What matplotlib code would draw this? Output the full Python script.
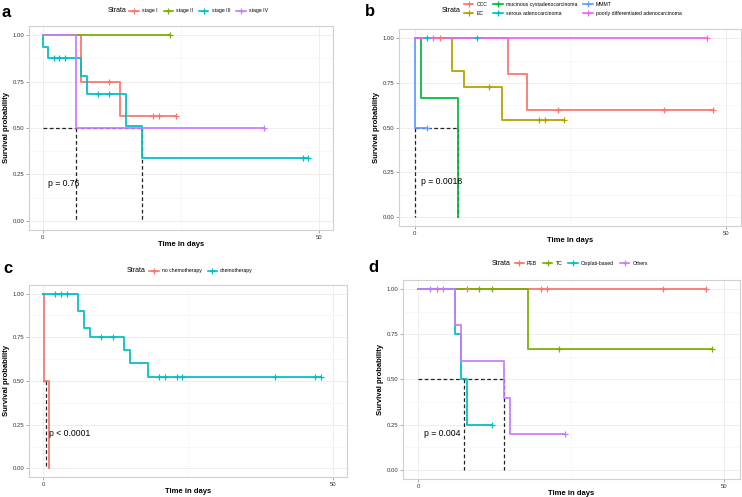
import matplotlib.pyplot as plt
import numpy as np
from matplotlib.lines import Line2D

plt.rcParams['font.family'] = ['Liberation Sans', 'DejaVu Sans']

# ---- panel a : stage
A_LABELS = ['stage I', 'stage II', 'stage III', 'stage IV']
A_COLORS = ['#F8766D', '#7CAE00', '#00BFC4', '#C77CFF']
A_TIMES = [[0, 7, 14, 24], [0, 23], [0, 0.1, 1, 7, 8, 15, 18, 48], [0, 6, 40]]
A_SURV = [[1.0, 0.75, 0.5625, 0.5625], [1.0, 1.0],
          [1.0, 0.9375, 0.875, 0.778, 0.681, 0.51, 0.34, 0.34], [1.0, 0.5, 0.5]]
A_CENS = [[12, 20, 21, 24], [23], [2, 3, 4, 10, 12, 47, 48], [40]]
A_MEDIANS = [6, 18]
A_P = 'p = 0.76'

# ---- panel b : histology
B_LABELS = ['CCC', 'EC', 'mucinous cystadenocarcinoma', 'serous adenocarcinoma',
            'MMMT', 'poorly differentiated adenocarcinoma']
B_COLORS = ['#F8766D', '#B79F00', '#00BA38', '#00BFC4', '#619CFF', '#F564E3']
B_TIMES = [[0, 15, 18, 48], [0, 6, 8, 14, 24], [0, 1, 7], [0, 10], [0, 0.05, 2], [0, 47]]
B_SURV = [[1.0, 0.8, 0.6, 0.6], [1.0, 0.818, 0.727, 0.545, 0.545], [1.0, 0.667, 0.0],
          [1.0, 1.0], [1.0, 0.5, 0.5], [1.0, 1.0]]
B_CENS = [[4, 23, 40, 48], [12, 20, 21, 24], [], [2, 10], [2], [3, 47]]
B_MEDIANS = [0, 7]
B_P = 'p = 0.0018'

# ---- panel c : chemotherapy
C_LABELS = ['no chemotherapy', 'chemotherapy']
C_COLORS = ['#F8766D', '#00BFC4']
C_TIMES = [[0, 0.05, 1], [0, 6, 7, 8, 14, 15, 18, 48]]
C_SURV = [[1.0, 0.5, 0.0], [1.0, 0.9, 0.8, 0.75, 0.675, 0.6, 0.525, 0.525]]
C_CENS = [[], [2, 3, 4, 10, 12, 20, 21, 23, 24, 40, 47, 48]]
C_MEDIANS = [0.5]
C_P = 'p < 0.0001'

# ---- panel d : regimen
D_LABELS = ['PEB', 'TC', 'Cisplati-based', 'Others']
D_COLORS = ['#F8766D', '#7CAE00', '#00BFC4', '#C77CFF']
D_TIMES = [[0, 47], [0, 18, 48], [0, 6, 7, 8, 12], [0, 6, 7, 14, 15, 24]]
D_SURV = [[1.0, 1.0], [1.0, 0.667, 0.667], [1.0, 0.75, 0.5, 0.25, 0.25],
          [1.0, 0.8, 0.6, 0.4, 0.2, 0.2]]
D_CENS = [[3, 8, 20, 21, 40, 47], [10, 12, 23, 48], [12], [2, 4, 24]]
D_MEDIANS = [7.5, 14]
D_P = 'p = 0.004'


def surv_at(times, surv, t):
    idx = np.searchsorted(times, t, side='right') - 1
    return surv[max(idx, 0)]


def km_panel(fig, rect, letter, letter_xy, labels, colors, times, surv, cens,
             medians, ptext, leg_xy, leg_ncol, strata_xy):
    ax = fig.add_axes(rect)
    for lab, col, tt, ss, cc in zip(labels, colors, times, surv, cens):
        ax.step(tt, ss, where='post', color=col, lw=1.4, alpha=0.9, zorder=3)
        if cc:
            cy = [surv_at(tt, ss, c) for c in cc]
            ax.plot(cc, cy, ls='none', marker='+', ms=4, mew=0.9, color=col, zorder=4)
    # median lines
    ax.plot([0, max(medians)], [0.5, 0.5], ls=(0, (3, 2)), color='#222222', lw=0.9, zorder=2)
    for m in medians:
        ax.plot([m, m], [0.5, 0], ls=(0, (3, 2)), color='#222222', lw=0.9, zorder=2)
    ax.text(1, 0.2, ptext, fontsize=6.2, va='center', ha='left', zorder=5)

    ax.set_xlim(-2.5, 52.5)
    ax.set_ylim(-0.05, 1.05)
    ax.set_xticks([0, 50])
    ax.set_xticks([25], minor=True)
    ax.set_yticks([0, 0.25, 0.5, 0.75, 1.0])
    ax.set_yticks([0.125, 0.375, 0.625, 0.875], minor=True)
    ax.set_yticklabels(['0.00', '0.25', '0.50', '0.75', '1.00'])
    ax.tick_params(which='major', labelsize=4.3, length=2, width=0.5, color='#888888',
                   pad=1.5, labelcolor='#333333')
    ax.tick_params(which='minor', length=0)
    ax.grid(which='major', color='#EBEBEB', lw=0.6)
    ax.grid(which='minor', color='#F3F3F3', lw=0.4)
    ax.set_axisbelow(True)
    for sp in ax.spines.values():
        sp.set_color('#D0D0D0')
        sp.set_linewidth(0.8)
    ax.set_xlabel('Time in days', fontsize=5.5, fontweight='bold', labelpad=1)
    ax.set_ylabel('Survival probability', fontsize=5.5, fontweight='bold', labelpad=2)

    handles = [Line2D([], [], color=c, lw=1.2, marker='+', ms=4, mew=0.9) for c in colors]
    fig.legend(handles, labels, loc='center left', bbox_to_anchor=leg_xy, ncol=leg_ncol,
               frameon=False, fontsize=3.7, handlelength=1.8, handletextpad=0.6,
               columnspacing=1.2, labelspacing=0.9, borderpad=0)
    fig.text(strata_xy[0], strata_xy[1], 'Strata', fontsize=5, ha='left', va='center')
    fig.text(letter_xy[0], letter_xy[1], letter, fontsize=12, fontweight='bold',
             ha='left', va='center')
    return ax


fig = plt.figure(figsize=(7.42, 4.97), dpi=100)

km_panel(fig, [0.039, 0.537, 0.410, 0.411], 'a', (0.002, 0.975),
         A_LABELS, A_COLORS, A_TIMES, A_SURV, A_CENS, A_MEDIANS, A_P,
         (0.171, 0.978), 4, (0.145, 0.978))
km_panel(fig, [0.538, 0.545, 0.461, 0.396], 'b', (0.492, 0.976),
         B_LABELS, B_COLORS, B_TIMES, B_SURV, B_CENS, B_MEDIANS, B_P,
         (0.622, 0.982), 3, (0.595, 0.978))
km_panel(fig, [0.039, 0.040, 0.429, 0.387], 'c', (0.004, 0.460),
         C_LABELS, C_COLORS, C_TIMES, C_SURV, C_CENS, C_MEDIANS, C_P,
         (0.198, 0.455), 2, (0.171, 0.455))
km_panel(fig, [0.543, 0.036, 0.454, 0.401], 'd', (0.497, 0.462),
         D_LABELS, D_COLORS, D_TIMES, D_SURV, D_CENS, D_MEDIANS, D_P,
         (0.690, 0.470), 4, (0.662, 0.470))

fig.savefig('out.png', dpi=100)
